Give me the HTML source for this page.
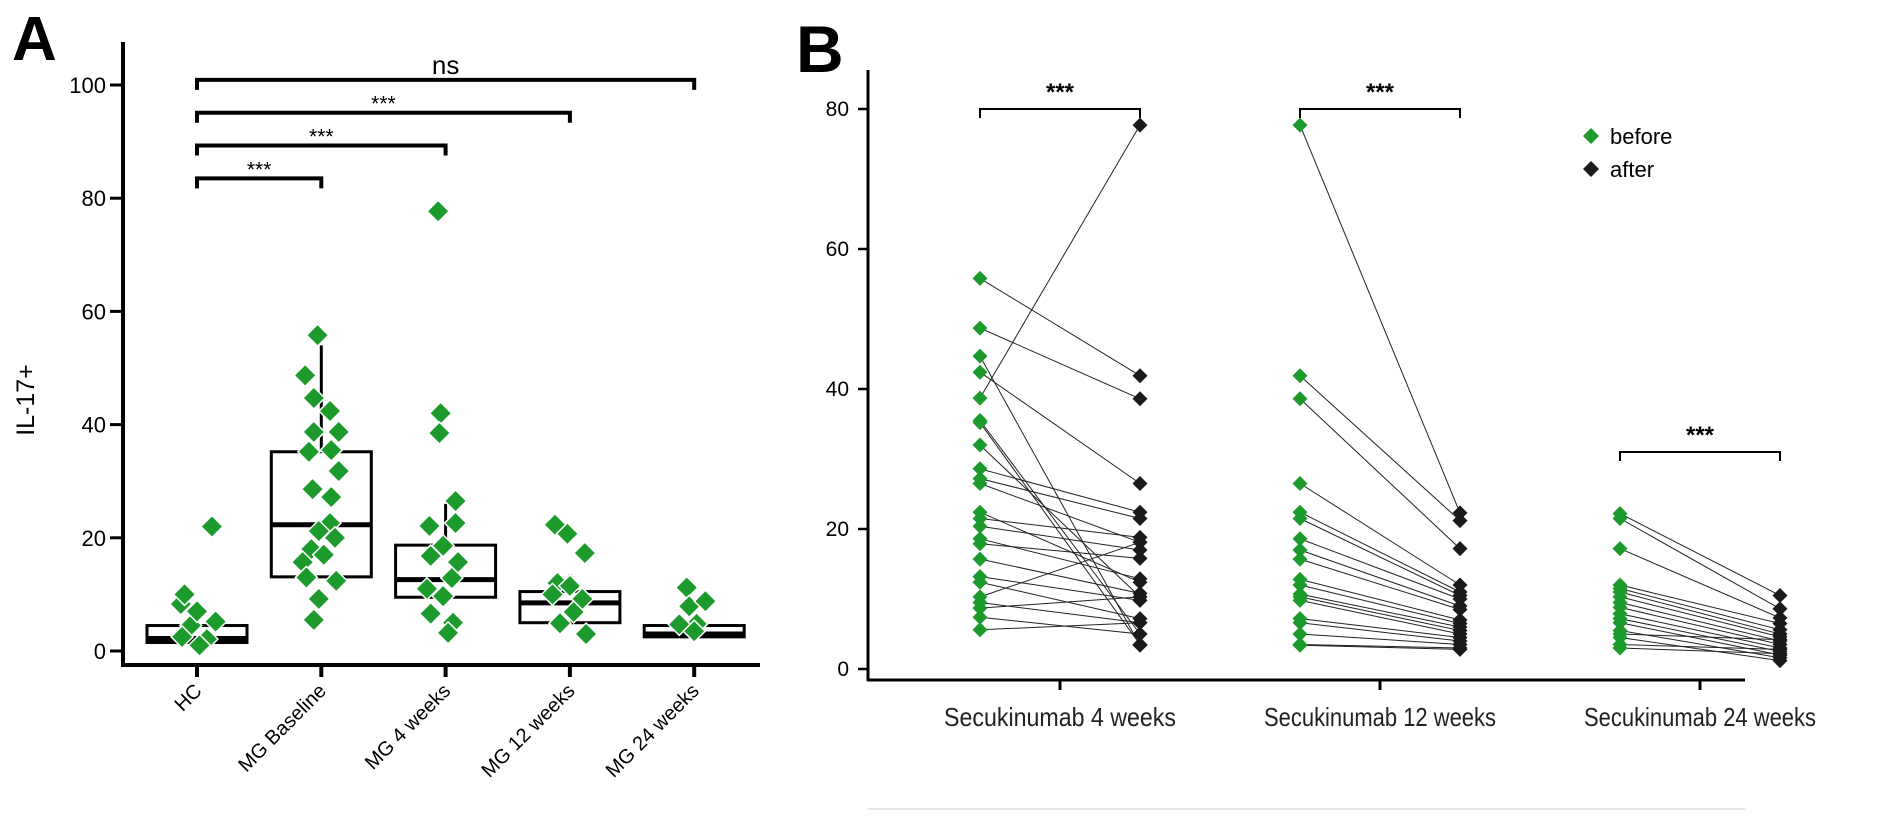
<!DOCTYPE html>
<html><head><meta charset="utf-8"><style>
html,body{margin:0;padding:0;background:#fff;}
svg{display:block;font-family:"Liberation Sans",Arial,sans-serif;}
</style></head><body>
<svg id="fig" width="1902" height="817" viewBox="0 0 1902 817">
<text x="12" y="60" font-size="62" font-weight="bold">A</text>
<text x="796" y="72" font-size="66" font-weight="bold">B</text>
<text transform="translate(34,400) rotate(-90)" text-anchor="middle" font-size="25">IL-17+</text>
<line x1="868" y1="809" x2="1745" y2="809" stroke="#e6e6e6" stroke-width="2"/>
<g id="gA"></g>
<g id="gB"></g>
<g>
<path d="M1591,128 L1599,136 L1591,144 L1583,136 Z" fill="#1c9a2c"/>
<text x="1610" y="144" font-size="22">before</text>
<path d="M1591,161 L1599,169 L1591,177 L1583,169 Z" fill="#1a1a1a"/>
<text x="1610" y="177" font-size="22">after</text>
</g>
</svg>
<script>
// ---------- Panel A data ----------
const aCategories = ["HC","MG Baseline","MG 4 weeks","MG 12 weeks","MG 24 weeks"];
const aTicks = [0,20,40,60,80,100];
const aQ1 = [1.5,13.1,9.5,5.0,2.5];
const aMedian = [2.2,22.3,12.6,8.5,3.0];
const aQ3 = [4.5,35.2,18.7,10.5,4.5];
const aWhiskerHi = [4.5,54,26,13.5,4.5];
const aWhiskerLo = [1.5,13.1,9.5,5.0,2.5];
const aValues = [
 [22,8.3,5.2,4.5,2.5,2.1,10,1,7],
 [55.8,48.7,44.7,42.4,38.7,38.7,35.2,35.5,31.8,28.6,27.2,22.6,21.2,18,15.7,12.4,9.2,5.5,20,13,17],
 [77.7,42,38.5,26.5,22.1,22.6,18.6,16.8,15.7,12.9,9.7,6.6,5,3.2,11],
 [22.3,20.7,17.3,12,11.5,9.2,6.9,4.9,3,10],
 [11.2,7.9,8.8,4.8,4.7,3.5]
];
const aJitter = [
 [0.12,-0.13,0.15,-0.05,-0.12,0.08,-0.1,0.02,0.0],
 [-0.03,-0.13,-0.06,0.07,-0.06,0.14,-0.1,0.08,0.14,-0.07,0.08,0.07,-0.02,-0.08,-0.15,0.12,-0.02,-0.06,0.11,-0.12,0.02],
 [-0.06,-0.04,-0.05,0.08,-0.13,0.08,-0.02,-0.12,0.1,0.05,-0.02,-0.12,0.06,0.02,-0.15],
 [-0.12,-0.02,0.12,-0.1,0.0,0.1,0.03,-0.08,0.13,-0.14],
 [-0.06,-0.04,0.09,0.02,-0.12,0.0]
];
const aBrackets = [
 {from:0,to:1,level:83.5,label:"***"},
 {from:0,to:2,level:89.3,label:"***"},
 {from:0,to:3,level:95.1,label:"***"},
 {from:0,to:4,level:100.9,label:"ns"}
];
// ---------- Panel B data ----------
const bCategories = ["Secukinumab 4 weeks","Secukinumab 12 weeks","Secukinumab 24 weeks"];
const bTicks = [0,20,40,60,80];
const bBefore = [
 [55.8,48.7,44.7,42.4,38.7,35.5,35.2,32,28.6,27.2,26.5,22.4,21.5,20.4,18.6,17.9,15.7,13.2,12.4,10.3,9.5,8.7,7.4,5.6],
 [77.7,41.9,38.6,26.5,22.4,21.5,18.6,17,15.7,12.8,12,10.7,10.3,9.8,7.2,6.6,5,3.5,3.4],
 [22.2,21.5,17.2,12,11.5,11,10.3,9.5,8.8,7.9,7.2,6.6,5.5,5,4.5,3.5,3.0]
];
const bAfter = [
 [41.9,38.6,3.4,26.5,77.7,5,3.5,10.3,22.4,21.5,18.1,12.4,18.8,17,12.9,15.8,10.8,9.8,7.2,18.1,6.6,10.3,5,6.6],
 [22.3,21.2,17.2,12,11,10.5,10,9,8.5,7,6.5,6,5.5,5,4.5,4,3.5,3,2.8],
 [10.5,8.6,7.3,6.5,5.6,5,4.6,4,3.5,3,2.5,2,1.6,4.2,1.2,2.8,2.2]
];
const bBrackets = [{cat:0,level:80,label:"***"},{cat:1,level:80,label:"***"},{cat:2,level:31,label:"***"}];

const NS="http://www.w3.org/2000/svg";
function mk(tag, attrs, parent){const e=document.createElementNS(NS,tag);for(const k in attrs)e.setAttribute(k,attrs[k]);parent.appendChild(e);return e;}
function diamond(cx,cy,r){return `M${cx},${cy-r} L${cx+r},${cy} L${cx},${cy+r} L${cx-r},${cy} Z`;}

const aX0=197, aStep=124.3, aY0=651, aPx=5.66;
const ax = i => aX0 + i*aStep;
const ay = v => aY0 - v*aPx;
const gA=document.getElementById('gA');
let e;
e=mk('line',{x1:123,y1:42,x2:123,y2:666,stroke:'#000','stroke-width':4},gA);


e=mk('line',{x1:121,y1:665,x2:760,y2:665,stroke:'#000','stroke-width':4},gA);


aTicks.forEach(t=>{
 e=mk('line',{x1:110,y1:ay(t),x2:123,y2:ay(t),stroke:'#000','stroke-width':3},gA);
 
 
 e=mk('text',{x:106,y:ay(t)+8,'text-anchor':'end','font-size':22},gA);
 e.textContent=t;
 
 
});
aCategories.forEach((c,i)=>{
 e=mk('line',{x1:ax(i),y1:665,x2:ax(i),y2:677,stroke:'#000','stroke-width':4},gA);
 
 
 e=mk('text',{x:0,y:0,'text-anchor':'end','font-size':20,transform:`translate(${ax(i)+6},${692}) rotate(-45)`},gA);
 e.textContent=c;
 
 
 const hw=50;
 e=mk('line',{x1:ax(i),y1:ay(aWhiskerHi[i]),x2:ax(i),y2:ay(aQ3[i]),stroke:'#000','stroke-width':3},gA);
 
 
 e=mk('rect',{x:ax(i)-hw,y:ay(aQ3[i]),width:2*hw,height:ay(aQ1[i])-ay(aQ3[i]),fill:'none',stroke:'#000','stroke-width':3},gA);
 
 
 e=mk('line',{x1:ax(i)-hw,y1:ay(aMedian[i]),x2:ax(i)+hw,y2:ay(aMedian[i]),stroke:'#000','stroke-width':5},gA);
 
 
 aValues[i].forEach((v,j)=>{
  e=mk('path',{d:diamond(ax(i)+aJitter[i][j]*aStep,ay(v),11),fill:'#1c9a2c',stroke:'#fff','stroke-width':1.5},gA);
  
  
 });
});
aBrackets.forEach(b=>{
 const y=ay(b.level);
 e=mk('path',{d:`M${ax(b.from)},${y+10} V${y} H${ax(b.to)} V${y+10}`,fill:'none',stroke:'#000','stroke-width':4},gA);
 
 
 const big=b.label==='ns';
 e=mk('text',{x:(ax(b.from)+ax(b.to))/2,y:big?y-6:y-2,'text-anchor':'middle','font-size':big?26:21},gA);
 e.textContent=b.label;
 
 
});

const bX0=1060, bStep=320, bOff=80, bY0=669, bPx=7.0;
const bx = i => bX0 + i*bStep;
const by = v => bY0 - v*bPx;
const gB=document.getElementById('gB');
e=mk('line',{x1:868,y1:70,x2:868,y2:681,stroke:'#000','stroke-width':3},gB);


e=mk('line',{x1:867,y1:680,x2:1745,y2:680,stroke:'#000','stroke-width':3},gB);


bTicks.forEach(t=>{
 e=mk('line',{x1:858,y1:by(t),x2:868,y2:by(t),stroke:'#000','stroke-width':2.5},gB);
 
 
 e=mk('text',{x:849,y:by(t)+7,'text-anchor':'end','font-size':21},gB);
 e.textContent=t;
 
 
});
bCategories.forEach((c,i)=>{
 e=mk('line',{x1:bx(i),y1:680,x2:bx(i),y2:690,stroke:'#000','stroke-width':3},gB);
 
 
 e=mk('text',{x:bx(i),y:726,'text-anchor':'middle','font-size':26,textLength:232,lengthAdjust:'spacingAndGlyphs',fill:'#222'},gB);
 e.textContent=c;
 
 
 bBefore[i].forEach((v,j)=>{
  e=mk('line',{x1:bx(i)-bOff,y1:by(v),x2:bx(i)+bOff,y2:by(bAfter[i][j]),stroke:'#222','stroke-width':1},gB);
  
  
 });
 bBefore[i].forEach(v=>{
  e=mk('path',{d:diamond(bx(i)-bOff,by(v),7.5),fill:'#1c9a2c'},gB);
  
  
 });
 bAfter[i].forEach(v=>{
  e=mk('path',{d:diamond(bx(i)+bOff,by(v),7.5),fill:'#1a1a1a'},gB);
  
  
 });
});
bBrackets.forEach(b=>{
 const y=by(b.level), x1=bx(b.cat)-bOff, x2=bx(b.cat)+bOff;
 e=mk('path',{d:`M${x1},${y+9} V${y} H${x2} V${y+9}`,fill:'none',stroke:'#000','stroke-width':2},gB);
 
 
 e=mk('text',{x:(x1+x2)/2,y:y-9,'text-anchor':'middle','font-size':24,'font-weight':'bold'},gB);
 e.textContent=b.label;
 
 
});
</script>
</body></html>
